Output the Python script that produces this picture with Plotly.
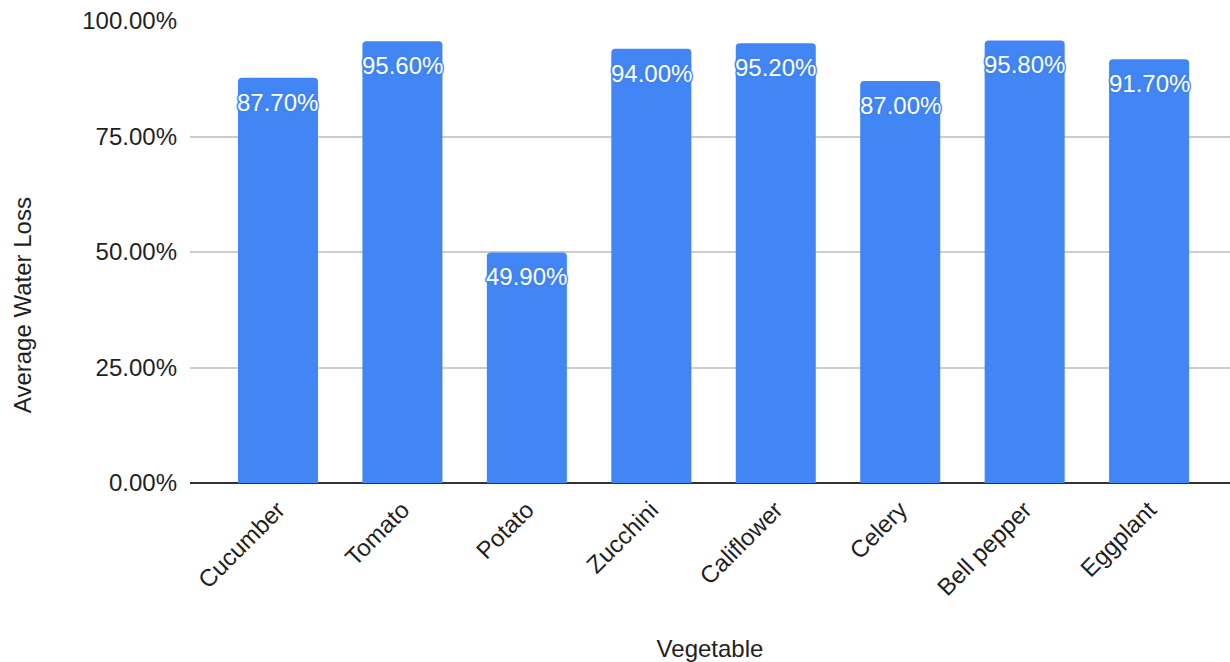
import plotly.graph_objects as go

vegetables = ["Cucumber", "Tomato", "Potato", "Zucchini", "Califlower", "Celery", "Bell pepper", "Eggplant"]
water_loss = [87.7, 95.6, 49.9, 94.0, 95.2, 87.0, 95.8, 91.7]
y_ticks = [0, 25, 50, 75, 100]
y_tick_labels = ["0.00%", "25.00%", "50.00%", "75.00%", "100.00%"]

BLUE = "#4285F4"
FONT = "Liberation Sans, Arial, sans-serif"
TXT = "#1f1f1f"

fig = go.Figure()
fig.add_trace(go.Bar(
    x=vegetables, y=water_loss,
    marker=dict(color=BLUE, cornerradius=4, line=dict(width=0)),
    hoverinfo="skip",
))

shadow = ", ".join(f"{dx}px {dy}px 1px {BLUE}" for dx, dy in
                   [(1, 0), (-1, 0), (0, 1), (0, -1), (1, 1), (-1, -1), (1, -1), (-1, 1)])
for v, w in zip(vegetables, water_loss):
    fig.add_annotation(
        x=v, y=w, xref="x", yref="y", text=f"{w:.2f}%",
        showarrow=False, yanchor="top", yshift=-9,
        font=dict(family=FONT, size=24, color="white", shadow=shadow),
    )

# y-axis title placed like the reference (centred lower than the plot centre)
fig.add_annotation(
    text="Average Water Loss", xref="paper", yref="paper",
    x=-0.1615, y=0.385, xanchor="center", yanchor="middle",
    textangle=-90, showarrow=False,
    font=dict(family=FONT, size=24, color=TXT),
)

fig.update_layout(
    width=1230, height=662,
    margin=dict(l=190, r=0, t=21, b=179),
    plot_bgcolor="white", paper_bgcolor="white",
    bargap=0.357,
    showlegend=False,
    font=dict(family=FONT, size=24, color=TXT),
    xaxis=dict(
        range=[-0.707, 7.65], tickangle=-45, showgrid=False,
        showline=False, ticks="", ticklabelstandoff=7,
        tickfont=dict(size=24, color=TXT),
        title=dict(text="Vegetable", font=dict(size=24, color=TXT), standoff=40),
        automargin=False,
    ),
    yaxis=dict(
        range=[0, 100], tickvals=y_ticks, ticktext=y_tick_labels,
        showgrid=True, gridcolor="#cccccc", gridwidth=1.5,
        zeroline=True, zerolinecolor="#333333", zerolinewidth=2,
        ticks="", ticklabelstandoff=12,
        tickfont=dict(size=24, color=TXT),
        automargin=False,
    ),
)

fig.write_html("out.html")
